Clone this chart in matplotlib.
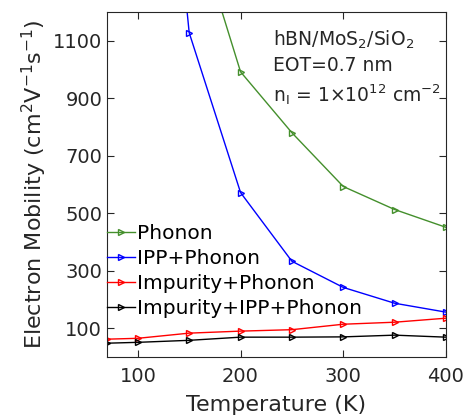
import matplotlib
matplotlib.use('Agg')
import matplotlib.pyplot as plt

temps = [70, 100, 150, 200, 250, 300, 350, 400]
phonon = [8000, 4000, 1570, 992, 780, 593, 513, 451]
ipp_phonon = [9000, 2930, 1128, 572, 333, 242, 187, 156]
imp_phonon = [62, 65, 83, 90, 95, 114, 121, 135]
imp_ipp_phonon = [48, 51, 58, 69, 69, 70, 76, 69]

plt.rcParams['font.family'] = ['DejaVu Sans']
plt.rcParams['mathtext.fontset'] = 'dejavusans'

fig = plt.figure(figsize=(4.70, 4.16), dpi=100)
ax = fig.add_axes([107 / 470, 59 / 416, 339 / 470, 345 / 416])

series = [
    (phonon, '#448f2c', 'Phonon'),
    (ipp_phonon, '#0000ff', 'IPP+Phonon'),
    (imp_phonon, '#ff0000', 'Impurity+Phonon'),
    (imp_ipp_phonon, '#000000', 'Impurity+IPP+Phonon'),
]
for vals, col, lab in series:
    ax.plot(temps, vals, color=col, lw=1, marker='>', ms=5,
            mfc='none', mew=1, label=lab)

ax.set_xlim(70, 400)
ax.set_ylim(0, 1200)
ax.set_xticks([100, 200, 300, 400])
ax.set_yticks([100, 300, 500, 700, 900, 1100])
ax.tick_params(direction='in', top=True, right=True, labelsize=14,
               colors='#262626', length=5)
ax.tick_params(axis='x', pad=7)
for s in ax.spines.values():
    s.set_color('#262626')
ax.set_xlabel('Temperature (K)', fontsize=16, color='#262626', labelpad=7)
ax.set_ylabel(r'Electron Mobility (cm$^2$V$^{-1}$s$^{-1}$)', fontsize=16,
              color='#262626', labelpad=3)

ax.text(0.49, 0.952,
        'hBN/MoS$_2$/SiO$_2$\nEOT=0.7 nm\nn$_\\mathregular{I}$ = 1$\\times$10$^{12}$ cm$^{-2}$',
        transform=ax.transAxes, fontsize=13.5, va='top', ha='left',
        color='#262626', linespacing=1.35)

ax.legend(loc='lower left', bbox_to_anchor=(-0.023, 0.09), frameon=False,
          fontsize=14.5, handlelength=1.4, handletextpad=0.1, labelspacing=0.3,
          borderaxespad=0)

fig.savefig('out.png', dpi=100)
